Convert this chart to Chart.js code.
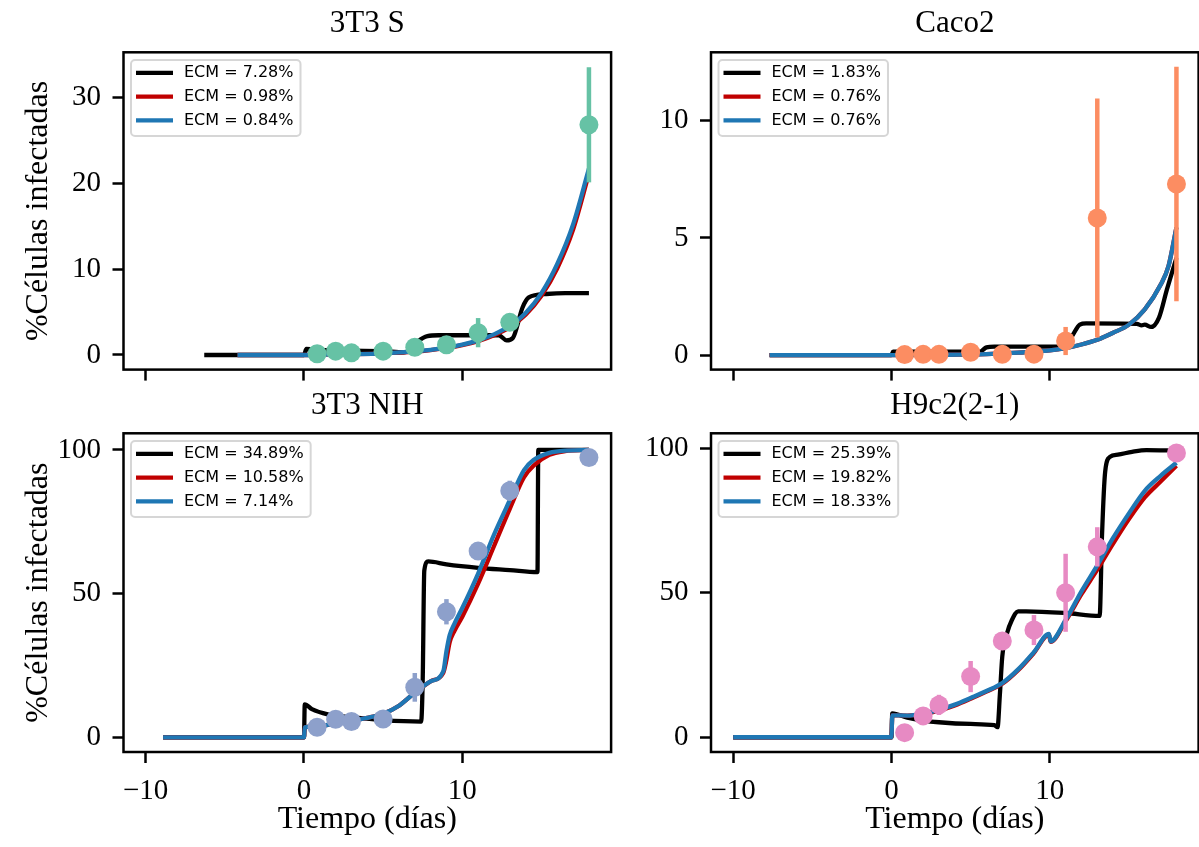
<!DOCTYPE html>
<html>
<head>
<meta charset="utf-8">
<script src="https://cdn.jsdelivr.net/npm/chart.js@4.4.1/dist/chart.umd.min.js"></script>
<style>
  html, body { margin: 0; padding: 0; background: #fff; }
  #fig { position: relative; width: 1199px; height: 847px; overflow: hidden; }
  #fig canvas { position: absolute; }
</style>
</head>
<body>
<div id="fig">
  <canvas id="c-s" width="615" height="390" style="left:0;top:0"></canvas>
  <canvas id="c-caco" width="584" height="390" style="left:615px;top:0"></canvas>
  <canvas id="c-nih" width="615" height="457" style="left:0;top:390px"></canvas>
  <canvas id="c-h9" width="584" height="457" style="left:615px;top:390px"></canvas>
</div>
<script>
// sampling days of the measurements (same for every cell line)
const days = [0.83, 2, 3, 5, 7, 9, 11, 13, 18];

// 3T3 S
const sMean = [0.15, 0.45, 0.25, 0.45, 0.9, 1.2, 2.6, 3.8, 26.8];
const sErr = [0.1, 0.1, 0.1, 0.1, 0.2, 0.2, 1.7, 0.3, 6.7];
const sBlackX = [-6.3, 0, 0.15, 1, 3, 5, 6.3, 6.6, 7.2, 7.8, 8.5, 12.3, 12.8, 13.2, 13.8, 14.2, 15.3, 16.5, 18];
const sBlackY = [0, 0, 0.7, 0.6, 0.5, 0.45, 0.3, 0.5, 1.6, 2.2, 2.3, 2.3, 1.7, 2.0, 5.5, 6.7, 7.1, 7.2, 7.2];
const sFitX = [-4.2, 0, 1, 3, 5, 7, 8, 9, 10, 11, 12, 13, 14, 15, 16, 17, 18];
const sRedY = [0, 0, 0.04, 0.1, 0.2, 0.4, 0.58, 0.82, 1.15, 1.62, 2.3, 3.25, 4.7, 6.9, 10.1, 14.6, 21.1];
const sBlueY = [0, 0, 0.04, 0.1, 0.2, 0.42, 0.6, 0.85, 1.2, 1.7, 2.4, 3.4, 4.9, 7.2, 10.6, 15.2, 21.7];
const sLabels = ['ECM = 7.28%', 'ECM = 0.98%', 'ECM = 0.84%'];

// Caco2
const cMean = [0.02, 0.03, 0.03, 0.12, 0.03, 0.04, 0.6, 5.85, 7.3];
const cErr = [0.02, 0.02, 0.02, 0.05, 0.02, 0.02, 0.6, 5.1, 5.0];
const cBlackX = [-7.7, 0, 0.1, 5.6, 6.0, 6.5, 10.9, 11.4, 11.9, 12.3, 15.5, 15.8, 16.0, 16.4, 16.9, 17.4, 18];
const cBlackY = [0, 0, 0.15, 0.15, 0.33, 0.36, 0.36, 0.8, 1.3, 1.35, 1.33, 1.27, 1.3, 1.2, 1.6, 2.8, 4.15];
const cFitX = [-7.7, 0, 3, 6, 8, 10, 11, 12, 13, 14, 15, 16, 17, 17.5, 18];
const cRedY = [0, 0, 0.01, 0.04, 0.1, 0.2, 0.3, 0.45, 0.65, 0.95, 1.3, 1.95, 3.0, 3.8, 5.45];
const cBlueY = [0, 0, 0.01, 0.04, 0.1, 0.2, 0.3, 0.45, 0.65, 0.95, 1.3, 1.95, 3.0, 3.8, 5.45];
const cLabels = ['ECM = 1.83%', 'ECM = 0.76%', 'ECM = 0.76%'];

// 3T3 NIH
const nMean = [3.5, 6.3, 5.5, 6.4, 17.4, 43.7, 64.8, 85.8, 97.4];
const nErr = [0.8, 1.5, 1, 1, 5, 4.4, 1.5, 3.5, 1];
const nBlackX = [-8.9, 0, 0.05, 0.5, 1.5, 3, 5, 7.4, 7.5, 7.6, 7.85, 9, 11, 13, 14.75, 14.8, 18];
const nBlackY = [0, 0, 11.5, 9.8, 8, 7, 6, 5.5, 20, 58, 61.2, 60.2, 59, 58.2, 57.5, 100, 100];
const nFitX = [-8.9, 0, 0.05, 1, 2, 3, 4, 5, 6, 7, 8, 8.8, 9.0, 9.2, 9.5, 10, 11, 12, 13, 13.9, 14.5, 15.5, 16.5, 18];
const nRedY = [0, 0, 3.5, 3.9, 5.0, 5.8, 6.8, 8.2, 11.0, 15.5, 19.5, 22.5, 27, 33, 37, 42, 53.5, 66.5, 79.5, 90.5, 94.5, 98.3, 99.6, 100];
const nBlueY = [0, 0, 3.5, 3.9, 5.0, 5.8, 6.8, 8.2, 11.0, 15.5, 19.5, 23, 30, 35.5, 39.5, 45, 57, 70.5, 82.5, 93, 96.5, 99, 99.8, 100];
const nLabels = ['ECM = 34.89%', 'ECM = 10.58%', 'ECM = 7.14%'];

// H9c2(2-1)
const hMean = [1.6, 7.4, 11.2, 21.0, 33.3, 37.1, 50.0, 65.9, 98.4];
const hErr = [0.5, 1.5, 3.5, 5.4, 1.5, 5.2, 13.5, 6.8, 0.5];
const hBlackX = [-10, 0, 0.05, 1, 2, 3, 5, 6.5, 6.7, 6.85, 7.0, 7.3, 7.6, 8, 8.5, 11, 13.15, 13.3, 13.5, 13.8, 14.3, 15.2, 16.1, 18];
const hBlackY = [0, 0, 8.3, 6.8, 5.8, 5.2, 4.6, 4.2, 3.5, 15, 28, 36, 40.5, 43.6, 43.6, 43, 42, 70, 92, 97, 97.8, 98.8, 99.4, 99.2];
const hFitX = [-10, 0, 0.05, 1, 2, 3, 4, 5, 6, 7, 8, 9, 9.95, 10.05, 11, 12, 13, 14, 15, 16, 17, 18];
const hRedY = [0, 0, 7.6, 7.5, 8.0, 9.2, 11, 13.3, 15.8, 18.5, 23.2, 29.2, 35.5, 33, 40.2, 49.5, 58, 67, 75.5, 83, 88.5, 94];
const hBlueY = [0, 0, 7.6, 7.5, 8.2, 9.5, 11.3, 13.6, 16, 18.8, 23.5, 29.5, 35.8, 33.2, 40.6, 50.5, 59.5, 69, 77.5, 85.3, 90.5, 95];
const hLabels = ['ECM = 25.39%', 'ECM = 19.82%', 'ECM = 18.33%'];

const SERIF = '"Liberation Serif", "Times New Roman", serif';
const SANS = '"DejaVu Sans", sans-serif';
const RED = '#c00000';
const BLUE = '#1f77b4';

function pts(xs, ys) {
  return xs.map((x, i) => ({x: x, y: ys[i]}));
}

// error bars, axes frame and the boxed legend in the upper-left corner
const decor = {
  id: 'decor',
  beforeDatasetDraw(chart, args) {
    const ds = chart.data.datasets[args.index];
    if (!ds.yErr) return;
    const {ctx} = chart;
    const xs = chart.scales.x, ys = chart.scales.y;
    ctx.save();
    ctx.strokeStyle = ds.backgroundColor;
    ctx.lineWidth = 4.5;
    ds.data.forEach((p, i) => {
      const px = xs.getPixelForValue(p.x);
      ctx.beginPath();
      ctx.moveTo(px, ys.getPixelForValue(p.y - ds.yErr[i]));
      ctx.lineTo(px, ys.getPixelForValue(p.y + ds.yErr[i]));
      ctx.stroke();
    });
    ctx.restore();
  },
  afterDatasetsDraw(chart) {
    const {ctx, chartArea: a} = chart;
    ctx.save();
    ctx.strokeStyle = '#000';
    ctx.lineWidth = 2.5;
    ctx.strokeRect(a.left, a.top, a.right - a.left, a.bottom - a.top);

    const items = chart.data.datasets.filter(d => d.inLegend);
    ctx.font = '16px ' + SANS;
    const textW = Math.max(...items.map(d => ctx.measureText(d.label).width));
    const bx = a.left + 7.5, by = a.top + 7.7;
    const bw = 53 + textW + 7, bh = 76;
    ctx.beginPath();
    ctx.roundRect(bx, by, bw, bh, 4);
    ctx.fillStyle = 'rgba(255,255,255,0.8)';
    ctx.fill();
    ctx.strokeStyle = 'rgba(204,204,204,0.8)';
    ctx.lineWidth = 2;
    ctx.stroke();
    ctx.textBaseline = 'middle';
    ctx.textAlign = 'left';
    items.forEach((d, i) => {
      const ry = by + 12.8 + i * 23.8;
      ctx.strokeStyle = d.borderColor;
      ctx.lineWidth = d.borderWidth;
      ctx.beginPath();
      ctx.moveTo(bx + 5, ry);
      ctx.lineTo(bx + 42, ry);
      ctx.stroke();
      ctx.fillStyle = '#000';
      ctx.fillText(d.label, bx + 53, ry + 0.5);
    });
    ctx.restore();
  }
};

function minusSign(v) {
  return String(v).replace('-', '\u2212');
}

function panel(id, o) {
  const canvas = document.getElementById(id);
  const W = canvas.width, H = canvas.height;
  const curve = {borderWidth: 4.3, pointRadius: 0, cubicInterpolationMode: 'monotone', fill: false, inLegend: true};
  return new Chart(canvas, {
    type: 'line',
    data: {
      datasets: [
        Object.assign({label: o.labels[0], data: pts(o.blackX, o.blackY), borderColor: '#000', order: 3}, curve),
        Object.assign({label: o.labels[1], data: pts(o.fitX, o.redY), borderColor: RED, order: 2}, curve),
        Object.assign({label: o.labels[2], data: pts(o.fitX, o.blueY), borderColor: BLUE, order: 1}, curve),
        {
          label: 'datos', data: pts(days, o.mean), yErr: o.err, showLine: false,
          pointRadius: 9.5, pointHoverRadius: 9.5, pointBorderWidth: 0,
          backgroundColor: o.color, pointBackgroundColor: o.color, borderColor: o.color, order: 0
        }
      ]
    },
    options: {
      responsive: false,
      animation: false,
      events: [],
      layout: {autoPadding: false, padding: {left: 0, top: 0, right: W - o.area[2], bottom: 0}},
      plugins: {
        legend: {display: false},
        tooltip: {enabled: false},
        title: {
          display: true, text: o.title, fullSize: false, color: '#000',
          font: {family: SERIF, size: 31, weight: 'normal', lineHeight: 1},
          padding: {top: o.titleTop, bottom: o.area[1] - 31 - o.titleTop}
        }
      },
      scales: {
        x: {
          type: 'linear', min: -11.4, max: 19.4,
          afterFit(s) {
            s.height = H - o.area[3];
            s.paddingLeft = s.paddingRight = s.paddingTop = s.paddingBottom = 0;
          },
          ticks: {
            display: o.bottom, stepSize: 10, includeBounds: false, autoSkip: false, maxRotation: 0,
            color: '#000', padding: 10.5, font: {family: SERIF, size: 29}, callback: minusSign
          },
          grid: {drawOnChartArea: false, drawTicks: true, tickLength: 11, tickWidth: 2.5, tickColor: '#000', color: '#000'},
          border: {display: false},
          title: {
            display: o.bottom, text: 'Tiempo (días)', color: '#000',
            font: {family: SERIF, size: 32, lineHeight: 1}, padding: {top: 0, bottom: 11.5}
          }
        },
        y: {
          type: 'linear', min: o.yMin, max: o.yMax,
          afterFit(s) {
            s.width = o.area[0];
            s.paddingLeft = s.paddingRight = s.paddingTop = s.paddingBottom = 0;
          },
          ticks: {
            stepSize: o.yStep, includeBounds: false, autoSkip: false,
            color: '#000', padding: 11.5, font: {family: SERIF, size: 29}, callback: minusSign
          },
          grid: {drawOnChartArea: false, drawTicks: true, tickLength: 11, tickWidth: 2.5, tickColor: '#000', color: '#000'},
          border: {display: false},
          title: {
            display: o.left, text: '%Células infectadas', color: '#000',
            font: {family: SERIF, size: 32, lineHeight: 1}, padding: {top: 23, bottom: 0}
          }
        }
      }
    },
    plugins: [decor]
  });
}

panel('c-s', {
  title: '3T3 S', color: '#66c2a5', labels: sLabels, mean: sMean, err: sErr,
  blackX: sBlackX, blackY: sBlackY, fitX: sFitX, redY: sRedY, blueY: sBlueY,
  yMin: -1.7, yMax: 35.24, yStep: 10, left: true, bottom: false,
  area: [123.5, 52.3, 611.1, 369.6], titleTop: 8.2
});
panel('c-caco', {
  title: 'Caco2', color: '#fc8d62', labels: cLabels, mean: cMean, err: cErr,
  blackX: cBlackX, blackY: cBlackY, fitX: cFitX, redY: cRedY, blueY: cBlueY,
  yMin: -0.62, yMax: 12.92, yStep: 5, left: false, bottom: false,
  area: [96, 52.3, 583.6, 369.6], titleTop: 8.2
});
panel('c-nih', {
  title: '3T3 NIH', color: '#8da0cb', labels: nLabels, mean: nMean, err: nErr,
  blackX: nBlackX, blackY: nBlackY, fitX: nFitX, redY: nRedY, blueY: nBlueY,
  yMin: -5.1, yMax: 105.8, yStep: 50, left: true, bottom: true,
  area: [123.5, 43.3, 611.1, 362], titleTop: 0
});
panel('c-h9', {
  title: 'H9c2(2-1)', color: '#e78ac3', labels: hLabels, mean: hMean, err: hErr,
  blackX: hBlackX, blackY: hBlackY, fitX: hFitX, redY: hRedY, blueY: hBlueY,
  yMin: -5.1, yMax: 105.2, yStep: 50, left: false, bottom: true,
  area: [96, 43.3, 583.6, 362], titleTop: 0
});
</script>
</body>
</html>
